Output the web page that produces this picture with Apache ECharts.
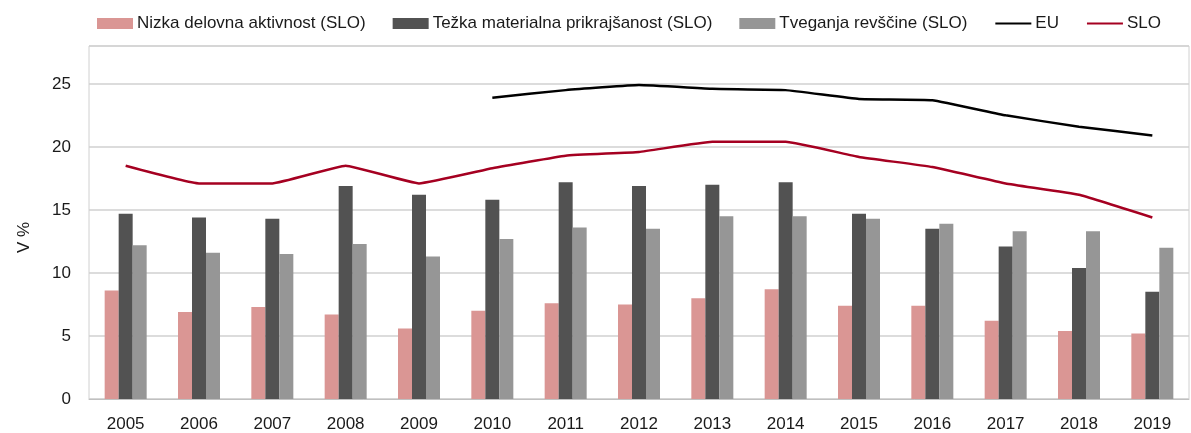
<!DOCTYPE html>
<html>
<head>
<meta charset="utf-8">
<script src="https://cdn.jsdelivr.net/npm/echarts@6/dist/echarts.min.js"></script>
<style>
  html, body { margin: 0; padding: 0; background: #fff; }
  #chart { width: 1191px; height: 433px; }
</style>
</head>
<body>
<div id="chart"></div>
<script>
// Years on the category axis
const years = ['2005', '2006', '2007', '2008', '2009', '2010', '2011', '2012',
               '2013', '2014', '2015', '2016', '2017', '2018', '2019'];

// Slovenia: indicator components (%)
const nizkaAktivnost = [8.6, 6.9, 7.3, 6.7, 5.6, 7.0, 7.6, 7.5, 8.0, 8.7, 7.4, 7.4, 6.2, 5.4, 5.2];
const materialnaPrikrajsanost = [14.7, 14.4, 14.3, 16.9, 16.2, 15.8, 17.2, 16.9, 17.0, 17.2, 14.7, 13.5, 12.1, 10.4, 8.5];
const tveganjeRevscine = [12.2, 11.6, 11.5, 12.3, 11.3, 12.7, 13.6, 13.5, 14.5, 14.5, 14.3, 13.9, 13.3, 13.3, 12.0];

// Overall rate, EU and Slovenia (%)
const euRate = [null, null, null, null, null, 23.9, 24.5, 24.9, 24.6, 24.5, 23.8, 23.7, 22.5, 21.6, 20.9];
const sloRate = [18.5, 17.1, 17.1, 18.5, 17.1, 18.3, 19.3, 19.6, 20.4, 20.4, 19.2, 18.4, 17.1, 16.2, 14.4];

const FONT = '"Liberation Sans", Arial, sans-serif';
const TEXT = '#1a1a1a';

const chart = echarts.init(document.getElementById('chart'), null, { renderer: 'canvas' });

function barSeries(name, data, color) {
  return {
    name: name,
    type: 'bar',
    data: data,
    barWidth: 14,
    barGap: '0%',
    itemStyle: { color: color },
    z: 2
  };
}

function lineSeries(name, data, color) {
  return {
    name: name,
    type: 'line',
    data: data,
    symbol: 'none',
    smooth: 0.1,
    connectNulls: false,
    lineStyle: { color: color, width: 2.5 },
    itemStyle: { color: color },
    z: 3
  };
}

chart.setOption({
  animation: false,
  backgroundColor: '#ffffff',
  textStyle: { fontFamily: FONT, color: TEXT },
  legend: {
    left: 92,
    top: 10,
    itemWidth: 36,
    itemHeight: 11,
    itemGap: 27,
    textStyle: { fontFamily: FONT, fontSize: 17, color: TEXT, padding: [0, 0, 0, -1] },
    data: [
      { name: 'Nizka delovna aktivnost (SLO)', icon: 'rect' },
      { name: 'Težka materialna prikrajšanost (SLO)', icon: 'rect' },
      { name: 'Tveganja revščine (SLO)', icon: 'rect' },
      // line-only keys: hide the marker drawn in the middle of the line icon
      { name: 'EU', itemStyle: { opacity: 0 } },
      { name: 'SLO', itemStyle: { opacity: 0 } }
    ]
  },
  grid: {
    left: 89,
    right: 2,
    top: 46,
    bottom: 33,
    show: true,
    borderColor: '#d0d0d0',
    borderWidth: 1,
    containLabel: false
  },
  xAxis: {
    type: 'category',
    data: years,
    boundaryGap: true,
    axisLine: { show: true, lineStyle: { color: '#c0c0c0', width: 1 } },
    axisTick: { show: false },
    axisLabel: { fontFamily: FONT, fontSize: 17, color: TEXT, margin: 17 },
    splitLine: { show: false }
  },
  yAxis: {
    type: 'value',
    min: 0,
    max: 28,
    interval: 5,
    name: 'V %',
    nameLocation: 'middle',
    nameGap: 56,
    nameTextStyle: { fontFamily: FONT, fontSize: 17, color: TEXT, padding: [0, 30, 0, 0] },
    axisLine: { show: false },
    axisTick: { show: false },
    axisLabel: { fontFamily: FONT, fontSize: 17, color: TEXT, margin: 18, showMaxLabel: false },
    splitLine: { show: true, lineStyle: { color: '#d0d0d0', width: 1.5 } }
  },
  series: [
    barSeries('Nizka delovna aktivnost (SLO)', nizkaAktivnost, '#da9694'),
    barSeries('Težka materialna prikrajšanost (SLO)', materialnaPrikrajsanost, '#525252'),
    barSeries('Tveganja revščine (SLO)', tveganjeRevscine, '#969696'),
    lineSeries('EU', euRate, '#000000'),
    lineSeries('SLO', sloRate, '#a50021')
  ]
});
</script>
</body>
</html>
